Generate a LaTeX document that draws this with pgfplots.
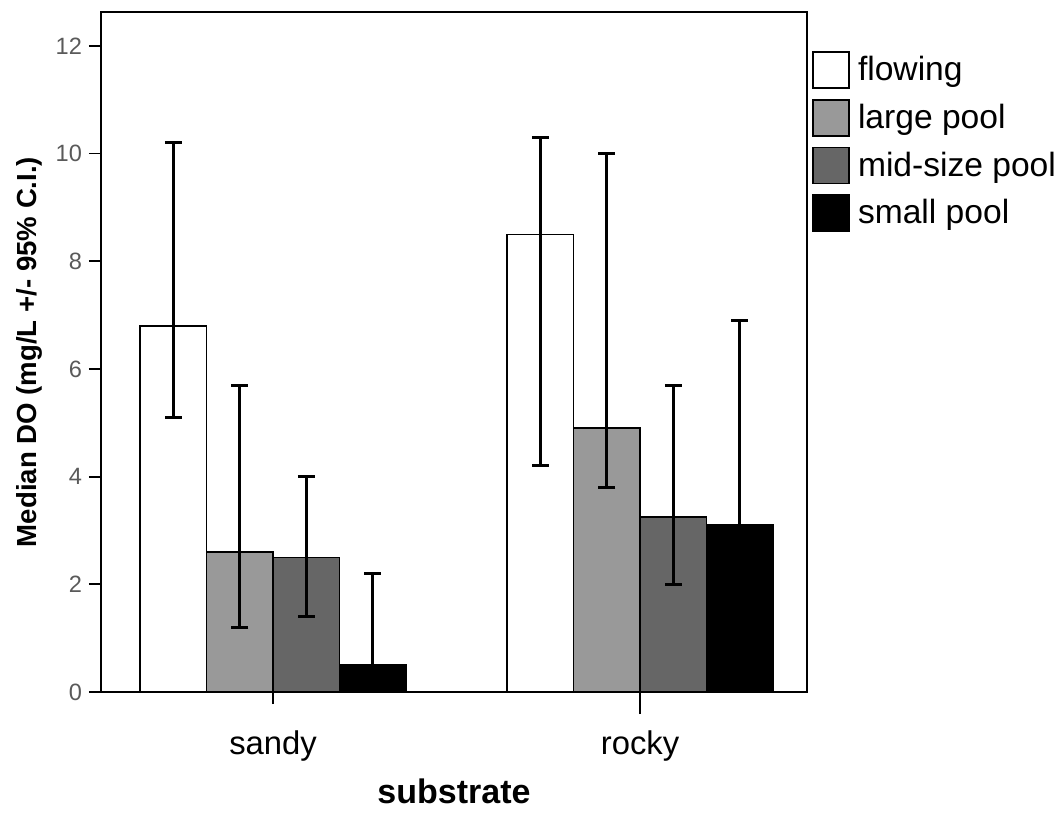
\documentclass[border=0pt]{standalone}
\usepackage{fontspec}
\setmainfont{Liberation Sans}
\usepackage{pgfplots}
\pgfplotsset{compat=1.18}

\definecolor{lpool}{RGB}{153,153,153}
\definecolor{mpool}{RGB}{102,102,102}
\definecolor{tickgray}{RGB}{90,90,90}

\begin{document}
\begin{tikzpicture}
\begin{axis}[
    scale only axis, width=353pt, height=340pt,
    ybar=0pt, bar width=33.25pt,
    xmin=-0.469, xmax=1.455, ymin=0, ymax=12.63,
    xtick={0,1}, xticklabels={sandy,rocky},
    ytick={0,2,...,12},
    tick pos=left, tick align=outside, major tick length=6pt,
    tick style={line width=0.9pt, black},
    x tick style={shorten <=-5pt},
    axis line style={line width=0.9pt},
    /pgf/number format/assume math mode=true,
    y tick label style={font=\fontsize{11.8}{13}\selectfont, text=tickgray},
    x tick label style={font=\fontsize{16.4}{19}\selectfont, yshift=-10pt},
    xlabel={substrate},
    every axis x label/.style={at={(rel axis cs:0.5,0)}, anchor=north, yshift=-40pt,
        font=\bfseries\fontsize{17}{20}\selectfont},
    ylabel={Median DO (mg/L +/- 95\% C.I.)},
    every axis y label/.style={at={(rel axis cs:0,0.5)}, xshift=-36pt, rotate=90, anchor=center,
        font=\bfseries\fontsize{13.8}{16}\selectfont},
    error bars/y dir=both, error bars/y explicit,
    error bars/error bar style={line width=1.4pt, black},
    error bars/error mark options={rotate=90, mark size=4.25pt, line width=1.4pt, black},
    legend image code/.code={\draw[#1, line width=0.8pt] (0pt,-9pt) rectangle (18pt,9pt);},
    legend style={at={(rel axis cs:1,1)}, anchor=north west, xshift=2.5pt, yshift=-19.5pt,
        draw=none, fill=none, inner sep=0pt, row sep=5pt,
        font=\fontsize{16.8}{20}\selectfont,
        nodes={inner sep=2pt},
        /tikz/every odd column/.append style={column sep=2pt}},
    legend cell align=left,
]
\addplot[fill=white, draw=black, line width=0.75pt] coordinates
    {(0,6.8) += (0,3.4) -= (0,1.7) (1,8.5) += (0,1.8) -= (0,4.3)};
\addplot[fill=lpool, draw=black, line width=0.75pt] coordinates
    {(0,2.6) += (0,3.1) -= (0,1.4) (1,4.9) += (0,5.1) -= (0,1.1)};
\addplot[fill=mpool, draw=black, line width=0.75pt] coordinates
    {(0,2.5) += (0,1.5) -= (0,1.1) (1,3.25) += (0,2.45) -= (0,1.25)};
\addplot[fill=black, draw=black, line width=0.75pt] coordinates
    {(0,0.5) += (0,1.7) -= (0,0.5) (1,3.1) += (0,3.8) -= (0,1.6)};
\legend{flowing, large pool, mid-size pool, small pool}
\coordinate (sw) at (rel axis cs:0,0);
\coordinate (ne) at (rel axis cs:1,1);
\end{axis}
\pgfresetboundingbox
\path ([shift={(-50.5pt,-60pt)}]sw) rectangle ([shift={(128pt,6pt)}]ne);
\end{tikzpicture}
\end{document}
